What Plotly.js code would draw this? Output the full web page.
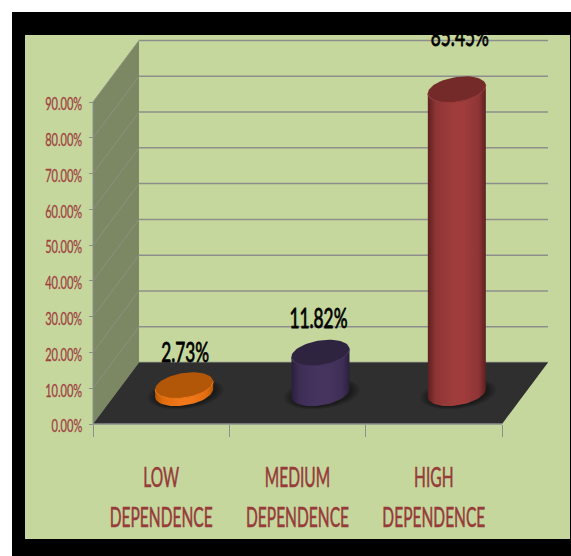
<!DOCTYPE html>
<html><head><meta charset="utf-8">
<script src="https://cdn.plot.ly/plotly-3.0.1.min.js"></script>
<style>html,body{margin:0;padding:0;background:#fff;overflow:hidden}</style>
</head><body><div id="chart" style="width:571px;height:556px"></div>
<script>
// ---- data ----
const categories = ["LOW<br>DEPENDENCE", "MEDIUM<br>DEPENDENCE", "HIGH<br>DEPENDENCE"];
const values = [2.73, 11.82, 85.45];
const labels = ["2.73%", "11.82%", "85.45%"];
const labelLift = [8.2, 8.6, 13.8];
const labelNudge = [1, -2, 3];
const yTicks = [0, 10, 20, 30, 40, 50, 60, 70, 80, 90];
const yTickText = ["0.00%", "10.00%", "20.00%", "30.00%", "40.00%", "50.00%", "60.00%", "70.00%", "80.00%", "90.00%"];
const xBoundaries = [0, 1, 2, 3];
const topColors = ["#b25607", "#2f2440", "#752a2a"];
const rimColors = ["#f27c1c", "#43325c", "#96393a"];
const sideScales = [
  ["#b85a08", "#e36c0e", "#f0781a"],
  ["#2a1f3c", "#3e2e56", "#46345f"],
  ["#5e2020", "#8e3535", "#a03c3c"]
];

// ---- page geometry ----
const W = 571, H = 556;
const x0 = 93, x3 = 502, y0 = 424, y90 = 102;
const depthX = 46, depthY = 61.5;
const sx = (x3 - x0) / 3, sy = (y0 - y90) / 90;
const x2Zero = x0 + 23, y2Zero = 393;
const dUx = depthX / sx, dUy = depthY / sy;
const topInset = 0.6;

function ellipse(cx, cyVal, a, b, s, from, to, n){
  const xs = [], ys = [];
  for (let i = 0; i <= n; i++){
    const t = from + (to - from) * i / n;
    xs.push(cx + a * Math.cos(t) / sx);
    ys.push(cyVal - (b * Math.sin(t) - s * Math.cos(t)) / sy);
  }
  return [xs, ys];
}
const A = 29, B = 12.5, S = 4;
const traces = [];

// floor shadows
values.forEach((v, i) => {
  const cx = i + 0.5;
  [9, 7, 5, 3, 1].forEach(g => {
    const e = ellipse(cx + 1.5 / sx, -0.2, A + g, B + g * 0.3, S, 0, 2 * Math.PI, 48);
    traces.push({type:"scatter", xaxis:"x2", yaxis:"y2", mode:"lines", x:e[0], y:e[1], fill:"toself",
      fillcolor:"rgba(0,0,0,0.09)", line:{width:0}, hoverinfo:"skip", showlegend:false});
  });
});

// the value bars
traces.push({type:"bar", xaxis:"x2", yaxis:"y2", x:values.map((v, i) => i + 0.5), y:values.map(v => v - topInset), width:0.3,
  marker:{color:sideScales.map(c => c[1])}, hoverinfo:"skip", showlegend:false});

// cylinder bodies and tops
values.forEach((v, i) => {
  const cx = i + 0.5;
  const low = ellipse(cx, 0, A, B, S, Math.PI, 0, 32);
  const up = ellipse(cx, v - topInset, A, B, S, 0, Math.PI, 32);
  const c = sideScales[i];
  traces.push({type:"scatter", xaxis:"x2", yaxis:"y2", mode:"lines",
    x:low[0].concat(up[0]), y:low[1].concat(up[1]), fill:"toself",
    fillgradient:{type:"horizontal", colorscale:[[0,c[0]],[0.14,c[1]],[0.45,c[2]],[0.62,c[2]],[0.88,c[1]],[1,c[0]]]},
    line:{width:0}, hoverinfo:"skip", showlegend:false});
  const top = ellipse(cx, v - topInset, A, B, S, 0, 2 * Math.PI, 64);
  traces.push({type:"scatter", xaxis:"x2", yaxis:"y2", mode:"lines", x:top[0], y:top[1], fill:"toself",
    fillcolor:topColors[i], line:{width:0}, hoverinfo:"skip", showlegend:false});
  const rim = ellipse(cx, v - topInset, A, B, S, Math.PI, 0, 32);
  traces.push({type:"scatter", xaxis:"x2", yaxis:"y2", mode:"lines", x:rim[0], y:rim[1],
    line:{width:1, color:rimColors[i]}, hoverinfo:"skip", showlegend:false});
});

// data labels
const FONT = 'Lato,"Open Sans",sans-serif';
traces.push({type:"scatter", xaxis:"x2", yaxis:"y2", mode:"text", cliponaxis:false,
  x:values.map((v, i) => i + 0.5 + labelNudge[i] / sx), y:values.map((v, i) => v + labelLift[i]),
  text:labels, textposition:"middle center",
  textfont:{family:FONT, size:20, color:"#000"}, hoverinfo:"skip", showlegend:false});

// ---- decorations ----
const GRID = "#8e8f8c";
function rect(a, b, c, d, fill, layer){
  return {type:"rect", xref:"paper", yref:"paper", x0:a / W, x1:c / W, y0:1 - b / H, y1:1 - d / H,
    fillcolor:fill, line:{width:0}, layer:layer || "below"};
}
function poly(pts, fill){
  return {type:"path", xref:"x", yref:"y", fillcolor:fill, line:{width:0}, layer:"below",
    path:"M" + pts.map(p => p[0] + "," + p[1]).join("L") + "Z"};
}
function seg(a, b, c, d, color, w){
  return {type:"line", xref:"x", yref:"y", x0:a, y0:b, x1:c, y1:d, line:{color:color, width:w}, layer:"below"};
}
const shapes = [
  rect(12, 12, W, H, "#000"),
  rect(25, 35, W - 1, 539, "#c5d79d"),
  poly([[0,0],[0,90],[dUx,90 + dUy],[dUx,dUy]], "#7c8763")
];
yTicks.forEach(t => {
  if (t > 0) shapes.push(seg(0, t, dUx, t + dUy, "#8c9280", 1));
  shapes.push(seg(dUx, t + dUy, 3 + dUx, t + dUy, GRID, 1.5));
});
shapes.push(poly([[0,0],[3,0],[3 + dUx,dUy],[dUx,dUy]], "#2f2f2f"));
shapes.push(seg(0, 0, 3, 0, "#8e9090", 1.5));
shapes.push(seg(0, 0, 0, 90, "#8e9090", 1));
// the frame hides whatever rises above the plot
shapes.push(rect(12, 12, W, 35, "#000", "above"));

const TICKRED = "#a0403f", LABELRED = "#963a3a";
const layout = {
  width:W, height:H, autosize:false, margin:{l:0, r:0, t:0, b:0, pad:0},
  paper_bgcolor:"#fff", plot_bgcolor:"rgba(0,0,0,0)", showlegend:false, hovermode:false, barmode:"overlay",
  xaxis:{domain:[0,1], range:[-x0 / sx, (W - x0) / sx], anchor:"free", position:1 - y0 / H,
    tickmode:"array", tickvals:[0.5, 1.5, 2.5], ticktext:categories,
    ticks:"outside", ticklen:38, tickcolor:"rgba(0,0,0,0)", showgrid:false, zeroline:false, showline:false,
    tickfont:{family:FONT, size:22, color:LABELRED}, tickangle:0,
    minor:{tickmode:"array", tickvals:xBoundaries, ticks:"outside", ticklen:12, tickcolor:"#8e9090", tickwidth:1, showgrid:false}},
  yaxis:{domain:[0,1], range:[(y0 - H) / sy, y0 / sy], anchor:"free", position:x0 / W,
    tickmode:"array", tickvals:yTicks, ticktext:yTickText,
    ticks:"outside", ticklen:4, tickcolor:"#8e9090", tickwidth:1, showgrid:false, zeroline:false, showline:false,
    tickfont:{family:FONT, size:14, color:TICKRED}},
  xaxis2:{domain:[0,1], overlaying:"x", anchor:"free", position:0, visible:false,
    range:[-x2Zero / sx, (W - x2Zero) / sx]},
  yaxis2:{domain:[0,1], overlaying:"y", anchor:"free", position:0, visible:false,
    range:[(y2Zero - H) / sy, y2Zero / sy]},
  shapes:shapes
};

// Reshape a real text element: the reference lettering is tall, narrow and slightly heavy.
function stretch(el, fx, fy, dx, dy, right, heavy, color){
  const b = el.getBBox();
  const cx = right ? b.x + b.width : b.x + b.width / 2, cy = b.y + b.height / 2;
  const old = el.getAttribute("transform") || "";
  el.setAttribute("transform", old + " translate(" + (cx + dx) + "," + (cy + dy) + ") scale(" + fx + "," + fy + ") translate(" + (-cx) + "," + (-cy) + ")");
  el.style.stroke = color;
  el.style.strokeWidth = heavy + "px";
}

Plotly.newPlot("chart", traces, layout, {displayModeBar:false, staticPlot:true}).then(gd => {
  const xt = Array.from(gd.querySelectorAll(".xtick text"));
  xt.forEach(el => {
    el.querySelectorAll("tspan.line").forEach((t, i) => { if (i > 0) t.setAttribute("dy", "1.45em"); });
  });
  const xw = Math.max.apply(null, xt.map(el => el.getBBox().width));
  xt.forEach(el => stretch(el, 103 / xw, 1.26, 0, -0.5, false, 0.45, LABELRED));
  const yt = Array.from(gd.querySelectorAll(".ytick text"));
  const yw = Math.max.apply(null, yt.map(el => el.getBBox().width));
  yt.forEach(el => stretch(el, 37 / yw, 1.25, -4, 2, true, 0.25, TICKRED));
  const dl = Array.from(gd.querySelectorAll(".scatterlayer .textpoint text"));
  if (dl.length) {
    const f = 48 / dl[0].getBBox().width;
    dl.forEach(el => stretch(el, f, 1.38, 0, 0, false, 0.6, "#000"));
  }
});
</script></body></html>
